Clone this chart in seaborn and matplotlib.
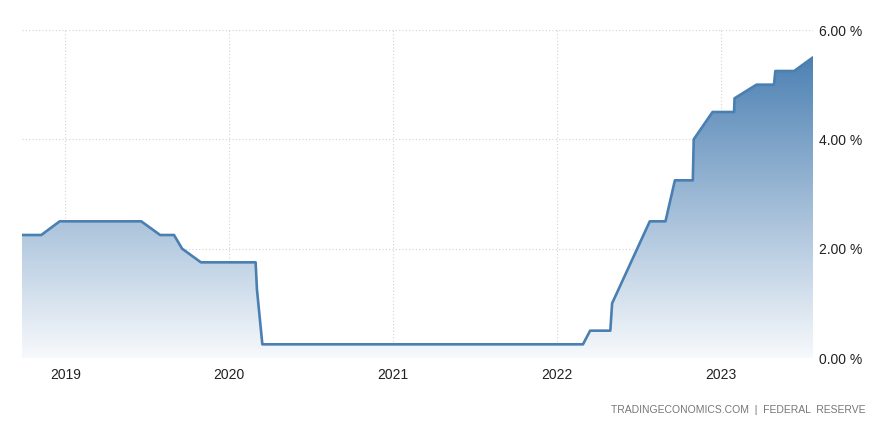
import numpy as np
import pandas as pd
import matplotlib
matplotlib.use("Agg")
import matplotlib.pyplot as plt
import matplotlib.dates as mdates
from matplotlib.colors import LinearSegmentedColormap
import seaborn as sns

dates = ["2018-09-26", "2018-11-08", "2018-12-19", "2019-01-30", "2019-03-20",
         "2019-05-01", "2019-06-19", "2019-07-31", "2019-08-31", "2019-09-18",
         "2019-10-30", "2019-12-11", "2020-01-29", "2020-02-29", "2020-03-03",
         "2020-03-15", "2020-12-16", "2021-06-16", "2021-12-15", "2022-01-26",
         "2022-02-28", "2022-03-16", "2022-04-30", "2022-05-04", "2022-06-15",
         "2022-07-27", "2022-08-31", "2022-09-21", "2022-10-31", "2022-11-02",
         "2022-12-14", "2023-01-31", "2023-02-01", "2023-03-22", "2023-04-30",
         "2023-05-03", "2023-06-14", "2023-07-26"]
rates = [2.25, 2.25, 2.50, 2.50, 2.50,
         2.50, 2.50, 2.25, 2.25, 2.00,
         1.75, 1.75, 1.75, 1.75, 1.25,
         0.25, 0.25, 0.25, 0.25, 0.25,
         0.25, 0.50, 0.50, 1.00, 1.75,
         2.50, 2.50, 3.25, 3.25, 4.00,
         4.50, 4.50, 4.75, 5.00, 5.00,
         5.25, 5.25, 5.50]
year_ticks = ["2019", "2020", "2021", "2022", "2023"]
y_ticks = [0, 2, 4, 6]
y_labels = ["0.00 %", "2.00 %", "4.00 %", "6.00 %"]
source_text = "TRADINGECONOMICS.COM  |  FEDERAL  RESERVE"

df = pd.DataFrame({"date": pd.to_datetime(dates), "rate": rates})

sns.set_theme(style="white")
plt.rcParams["font.family"] = ["Liberation Sans Narrow", "Liberation Sans", "DejaVu Sans"]

line_color = "#4a7fb2"

fig = plt.figure(figsize=(8.79, 4.28), dpi=100)
ax = fig.add_axes([22 / 879, 70 / 428, (813 - 22) / 879, (358 - 30) / 428])

xnum = mdates.date2num(df["date"])
x0, x1 = xnum.min(), xnum.max()

# gradient fill under the line
cmap = LinearSegmentedColormap.from_list("g", ["#f7f9fc", "#4a7fb2"])
grad = np.linspace(0, 1, 256).reshape(-1, 1)
im = ax.imshow(grad, cmap=cmap, aspect="auto", origin="lower",
               extent=[x0, x1, 0, 5.6], vmin=0, vmax=1, zorder=1)
poly = ax.fill_between(xnum, rates, 0, color="none", lw=0)
path = poly.get_paths()[0]
im.set_clip_path(path, transform=ax.transData)

sns.lineplot(data=df, x="date", y="rate", ax=ax, color=line_color,
             linewidth=1.9, zorder=3)

ax.set_xlim(x0, x1)
ax.set_ylim(0, 6)
ax.set_xlabel("")
ax.set_ylabel("")

ax.set_xticks(mdates.date2num(pd.to_datetime([y + "-01-01" for y in year_ticks])))
ax.set_xticklabels(year_ticks)
ax.set_yticks(y_ticks)
ax.set_yticklabels(y_labels)
ax.yaxis.tick_right()

ax.grid(True, color="#d2d2d2", linestyle=(0, (1, 2)), linewidth=0.8, zorder=0)
for s in ax.spines.values():
    s.set_visible(False)
ax.tick_params(axis="x", length=4, color="#d8d8d8", labelsize=10,
               labelcolor="#222222", pad=3)
ax.tick_params(axis="y", length=0, labelsize=10, labelcolor="#222222", pad=4)

fig.text(866 / 879, 1 - 410 / 428, source_text, ha="right", va="center",
         fontsize=7.5, color="#777777")

fig.savefig("out.png", dpi=100)
